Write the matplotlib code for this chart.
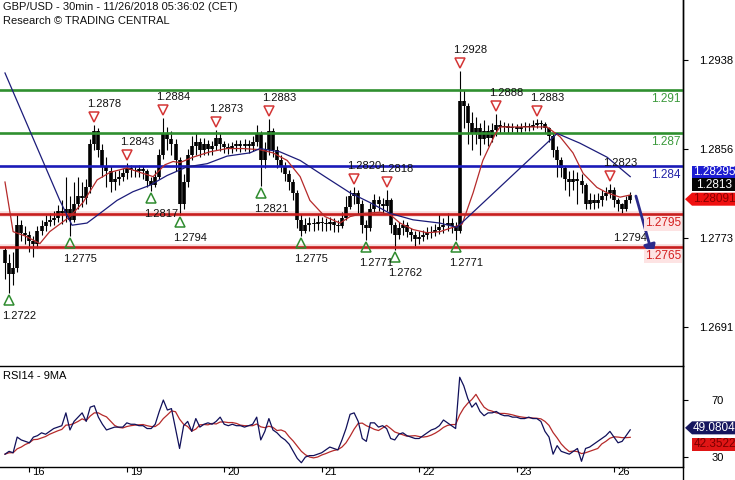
import matplotlib
matplotlib.use('Agg')
import matplotlib.pyplot as plt
import matplotlib.transforms as mtransforms
from matplotlib.patches import Polygon
from matplotlib.lines import Line2D
import numpy as np
import pandas as pd

plt.rcParams['font.family'] = ['Liberation Sans', 'DejaVu Sans']

# ---------------- data (prices in pips above 1.2700, hourly bars) ----------------
BASE = 1.27
open_first = 62
close_pips = [50, 40, 45, 85, 78, 76, 70, 68, 80, 84,
              88, 90, 92, 98, 96, 100, 90, 105, 112, 110,
              120, 160, 172, 155, 140, 135, 125, 128, 130, 133,
              138, 136, 135, 137, 135, 126, 122, 130, 150, 170,
              165, 160, 145, 105, 125, 150, 158, 162, 155, 160,
              156, 158, 166, 160, 157, 156, 158, 160, 158, 160,
              158, 162, 170, 145, 155, 172, 155, 145, 140, 132,
              125, 115, 90, 80, 85, 87, 86, 88, 87, 86,
              88, 85, 84, 92, 102, 112, 115, 105, 85, 82,
              100, 108, 105, 103, 108, 85, 76, 82, 85, 79,
              76, 72, 74, 76, 78, 79, 81, 83, 85, 87,
              84, 80, 200, 195, 180, 170, 175, 165, 172, 166,
              173, 178, 176, 177, 175, 176, 174, 176, 177, 176,
              178, 180, 179, 175, 168, 155, 145, 138, 128, 125,
              128, 126, 122, 105, 108, 106, 108, 112, 115, 118,
              108, 105, 100, 108, 113]
high_pips = [65, 58, 60, 94, 90, 84, 80, 75, 84, 90,
             94, 96, 98, 104, 108, 130, 112, 125, 130, 125,
             128, 165, 178, 175, 160, 148, 140, 135, 136, 138,
             143, 141, 140, 141, 140, 137, 130, 136, 156, 184,
             176, 172, 165, 148, 132, 156, 168, 170, 166, 166,
             164, 163, 173, 170, 163, 161, 162, 164, 164, 165,
             164, 168, 178, 172, 162, 183, 175, 158, 150, 144,
             136, 128, 118, 95, 92, 93, 92, 94, 93, 92,
             93, 92, 90, 97, 112, 118, 120, 118, 108, 90,
             106, 114, 112, 110, 118, 110, 88, 88, 90, 88,
             82, 80, 80, 81, 83, 84, 86, 95, 92, 96,
             92, 88, 228, 210, 198, 190, 185, 180, 182, 178,
             180, 188, 182, 181, 180, 180, 179, 180, 181, 180,
             182, 183, 182, 181, 176, 170, 158, 148, 140, 135,
             136, 134, 132, 124, 115, 114, 115, 118, 120, 123,
             120, 110, 106, 112, 116]
low_pips = [35, 22, 30, 42, 70, 68, 60, 56, 64, 76,
            80, 84, 85, 88, 86, 88, 75, 88, 100, 102,
            105, 115, 155, 148, 130, 120, 116, 118, 122, 126,
            128, 130, 130, 130, 128, 120, 117, 120, 128, 146,
            155, 150, 135, 94, 100, 120, 145, 150, 148, 150,
            150, 150, 155, 154, 152, 151, 152, 154, 153, 154,
            152, 154, 158, 121, 138, 150, 148, 138, 134, 126,
            118, 108, 82, 75, 78, 80, 80, 81, 80, 80,
            81, 79, 79, 82, 90, 100, 105, 95, 78, 71,
            80, 96, 98, 96, 98, 78, 62, 72, 76, 74,
            70, 66, 68, 70, 72, 73, 75, 77, 78, 80,
            78, 71, 78, 175, 160, 155, 160, 150, 160, 158,
            162, 168, 170, 171, 170, 171, 170, 170, 172, 172,
            173, 175, 174, 170, 162, 148, 130, 130, 118, 112,
            118, 105, 115, 100, 100, 100, 101, 103, 108, 110,
            102, 98, 96, 98, 106]

ma_fast_h = [0, 2, 5, 8.6, 11, 16, 19.2, 22.7, 25.9, 30, 34, 36.5, 39.4, 41.4, 43.1,
             46.3, 50.5, 54.7, 58.6, 62.8, 66, 69.5, 72.7, 75.1, 78.8, 82.5, 85, 88.2,
             92.4, 94.8, 97.3, 100.5, 104, 107.1, 110.3, 112.6, 115.3, 117.7, 120.7,
             121.9, 127.6, 133.5, 136.7, 139.9, 142.4, 145.8, 148.3, 151.5, 154]
ma_fast_pips = [125, 79, 75, 68, 79, 93, 106, 127, 134, 138, 133, 130, 141, 144, 143,
                148, 153, 156, 156, 155, 152, 145, 130, 108, 93, 87, 93, 96,
                97, 95, 87, 81, 78, 79, 83, 86, 115, 145, 169,
                176, 176, 176, 167, 152, 133, 120, 115, 111, 113]
ma_slow_h = [0, 13.5, 16.5, 20.2, 23.4, 27.6, 31.5, 35.7, 39.9, 44.8, 49.8, 54.7, 60.3,
             62.8, 67.7, 72.7, 78.8, 85, 89.9, 94.8, 100.5, 107.1, 111.3, 136, 141.6,
             148.3, 154]
ma_slow_pips = [226, 108, 85, 87, 96, 108, 116, 122, 131, 139, 142, 149, 152,
                156, 153, 145, 130, 115, 106, 96, 90, 87, 83, 170, 161,
                148, 130]

rsi = [32, 34, 33, 44, 42, 41, 40, 44, 45, 47,
       46, 48, 50, 51, 52, 61, 49, 55, 58, 61,
       55, 65, 66, 58, 53, 49, 50, 51, 51, 51,
       54, 53, 53, 52, 52, 50, 50, 53, 62, 70,
       63, 64, 50, 36, 52, 55, 48, 57, 51, 53,
       54, 53, 55, 58, 53, 52, 53, 52, 52, 51,
       52, 53, 58, 42, 48, 57, 49, 47, 44, 42,
       39, 34, 29, 26, 30, 31, 31, 32, 33, 35,
       37, 36, 35, 42, 50, 60, 61, 55, 43, 41,
       54, 54, 51, 52, 50, 43, 42, 46, 47, 45,
       44, 43, 43, 45, 47, 49, 50, 52, 56, 54,
       52, 50, 86, 80, 71, 65, 68, 62, 59, 61,
       61, 62, 60, 59, 59, 58, 58, 57, 57, 58,
       57, 57, 55, 48, 44, 32, 38, 34, 33, 32,
       34, 36, 27, 36, 37, 39, 41, 43, 45, 48,
       44, 40, 41, 45, 49.08]

day_ticks_h = [6, 30, 54, 78, 102, 126, 150]
day_labels = ['16', '19', '20', '21', '22', '23', '26']
price_ticks = [1.2938, 1.2856, 1.2773, 1.2691]
rsi_ticks = [30, 70]

resist_levels = [1.291, 1.287]
pivot_levels = [1.284]
support_levels = [1.2795, 1.2765]

peak_bars = [22, 30, 39, 52, 65, 86, 94, 112, 121, 131, 149]
trough_bars = [1, 16, 36, 43, 63, 73, 89, 96, 111]

forecast_start = (155.4, 1.2812)
forecast_end = (159.6, 1.2756)
forecast_label = '1.2794'
forecast_label_pos = (154.0, 1.2773)

last_price = 1.2813
ma_slow_last = 1.28295
red_tag = 1.28091
rsi_last = 49.0804
rsi_ma_last = 42.3522

# ---------------- figure ----------------
W, H = 735, 480
fig = plt.figure(figsize=(W / 100, H / 100), dpi=100)
ax = fig.add_axes([0, 114 / H, 683 / W, 366 / H])
axr = fig.add_axes([0, 13 / H, 683 / W, 101 / H], sharex=ax)

n = len(close_pips)
hrs = np.arange(n)
c = BASE + np.array(close_pips) / 1e4
hi = BASE + np.array(high_pips) / 1e4
lo = BASE + np.array(low_pips) / 1e4
o = np.concatenate([[BASE + open_first / 1e4], c[:-1]])
b_lo = np.minimum(o, c)
b_hi = np.maximum(np.maximum(o, c), b_lo + 0.00008)

GREEN = '#2f8f2f'
BLUE = '#1a1ab8'
RED = '#c81e1e'

# levels
for lv in resist_levels:
    ax.axhline(lv, color=GREEN, lw=1.9, zorder=4)
for lv in pivot_levels:
    ax.axhline(lv, color=BLUE, lw=1.9, zorder=4)
for lv in support_levels:
    ax.axhline(lv, color='#f8dada', lw=4, zorder=1)
    ax.axhline(lv, color=RED, lw=1.9, zorder=4)

# candles
ax.vlines(hrs, lo, hi, color='black', lw=0.8, zorder=3)
ax.vlines(hrs, b_lo, b_hi, color='black', lw=2.6, zorder=3)

# moving averages
ax.plot(ma_fast_h, BASE + np.array(ma_fast_pips) / 1e4, color='#b52a2a', lw=0.9, zorder=5)
ax.plot(ma_slow_h, BASE + np.array(ma_slow_pips) / 1e4, color='#1c1c7a', lw=0.9, zorder=5)

# peak / trough markers
up_off = mtransforms.ScaledTranslation(0, 8 / 100, fig.dpi_scale_trans)
dn_off = mtransforms.ScaledTranslation(0, -7 / 100, fig.dpi_scale_trans)
for b in peak_bars:
    ax.plot([b], [hi[b]], marker='v', ms=7, mfc='none', mec='#d43535', mew=1.1,
            transform=ax.transData + up_off, zorder=6)
    ax.annotate(f'{hi[b]:.4f}', (b, hi[b]), xytext=(10, 21), textcoords='offset pixels',
                ha='center', va='center', fontsize=8, color='#111111', zorder=7)
for b in trough_bars:
    ax.plot([b], [lo[b]], marker='^', ms=7, mfc='none', mec='#2e8b2e', mew=1.1,
            transform=ax.transData + dn_off, zorder=6)
    ax.annotate(f'{lo[b]:.4f}', (b, lo[b]), xytext=(10, -23), textcoords='offset pixels',
                ha='center', va='center', fontsize=8, color='#111111', zorder=7)

# forecast arrow
ax.annotate('', xy=forecast_end, xytext=forecast_start,
            arrowprops=dict(arrowstyle='-|>,head_length=0.7,head_width=0.35',
                            color='#2b2b8c', lw=2, shrinkA=0, shrinkB=0), zorder=8)
ax.text(*forecast_label_pos, forecast_label, ha='center', va='center', fontsize=8, color='#111111')

# level labels
lab_tr = mtransforms.blended_transform_factory(ax.transAxes, ax.transData)
for lv, col, txt, bg in [(resist_levels[0], '#3c9a3c', '1.291', None),
                         (resist_levels[1], '#3c9a3c', '1.287', None),
                         (pivot_levels[0], '#2424a8', '1.284', None),
                         (support_levels[0], '#d42020', '1.2795', '#fde3e3'),
                         (support_levels[1], '#d42020', '1.2765', '#fde3e3')]:
    kw = {}
    if bg:
        kw['bbox'] = dict(boxstyle='square,pad=0.1', fc=bg, ec='none')
    ax.annotate(txt, (0.997, lv), xycoords=lab_tr, xytext=(0, -9), textcoords='offset pixels',
                ha='right', va='center', fontsize=8.5, color=col, zorder=9, **kw)

ax.set_xlim(-1.23, 167.0)
ax.set_ylim(1.26546, 1.29936)
for s in ['left', 'top', 'bottom']:
    ax.spines[s].set_visible(False)
ax.spines['right'].set_linewidth(1)
ax.yaxis.tick_right()
ax.set_yticks(price_ticks)
ax.set_yticklabels([f'{p:.4f}' for p in price_ticks])
ax.tick_params(axis='y', direction='out', length=3.6, width=0.8, pad=8, labelsize=8)
ax.tick_params(axis='x', bottom=False, labelbottom=False)

# ---------------- RSI panel ----------------
rsi_s = pd.Series(rsi, dtype=float)
rsi_ma = rsi_s.rolling(5, min_periods=1).mean()
axr.plot(hrs, rsi_s, color='#10105a', lw=0.9, zorder=3)
axr.plot(hrs, rsi_ma, color='#b52a2a', lw=0.9, zorder=2)
axr.set_ylim(23.0, 93.9)
axr.spines['left'].set_visible(False)
for s in ['top', 'bottom', 'right']:
    axr.spines[s].set_linewidth(1)
axr.yaxis.tick_right()
axr.set_yticks(rsi_ticks)
axr.set_yticklabels([str(t) for t in rsi_ticks])
axr.tick_params(axis='y', direction='out', length=3.6, width=0.8, pad=17, labelsize=8)
axr.set_xticks(day_ticks_h)
axr.set_xticklabels(day_labels)
axr.tick_params(axis='x', direction='out', length=3.6, width=0.8, pad=-3.5, labelsize=8)
for lab in axr.get_xticklabels():
    lab.set_ha('left')
    lab.set_transform(lab.get_transform() + mtransforms.ScaledTranslation(3 / 100, 0, fig.dpi_scale_trans))
axr.text(0.004, 0.9, 'RSI14 - 9MA', transform=axr.transAxes, ha='left', va='center', fontsize=8)

# ---------------- texts / tags ----------------
IT = mtransforms.IdentityTransform()
fig.text(3, H - 7.5, 'GBP/USD - 30min - 11/26/2018 05:36:02 (CET)', transform=IT,
         ha='left', va='center', fontsize=8, color='#111111')
fig.text(3, H - 20.5, 'Research \u00a9 TRADING CENTRAL', transform=IT,
         ha='left', va='center', fontsize=8, color='#111111')

fig.add_artist(Line2D([683, 683], [0, H], transform=IT, color='black', lw=1))


def tag(axis, value, dy, text, fc, tc, arrow=False):
    y = axis.transData.transform((0, value))[1] + dy
    x0, x1, hh = 692, 735, 6.5
    if arrow:
        verts = [(685, y), (x0, y + hh), (x1, y + hh), (x1, y - hh), (x0, y - hh)]
    else:
        verts = [(x0, y - hh), (x0, y + hh), (x1, y + hh), (x1, y - hh)]
    fig.add_artist(Polygon(verts, closed=True, transform=IT, fc=fc, ec='none'))
    fig.text((x0 + x1) / 2 + 1, y, text, transform=IT, ha='center', va='center',
             fontsize=8.5, color=tc)


tag(ax, ma_slow_last, 5, f'{ma_slow_last:.5f}', '#1e1ed2', 'white')
tag(ax, last_price, 10, f'{last_price:.4f}', '#050505', 'white')
tag(ax, red_tag, 0, f'{red_tag:.5f}', '#f01010', '#8a0000', arrow=True)
tag(axr, rsi_last, 2, f'{rsi_last:.4f}', '#16165e', 'white', arrow=True)
tag(axr, rsi_ma_last, -5, f'{rsi_ma_last:.4f}', '#e01515', '#7a0000')

fig.savefig('out.png', dpi=100)
